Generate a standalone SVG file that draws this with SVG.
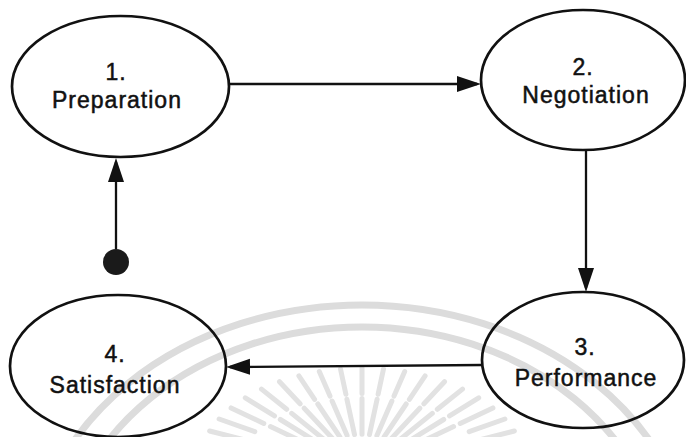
<svg xmlns="http://www.w3.org/2000/svg" width="686" height="437" viewBox="0 0 686 437">
<style>
.wm{fill:none;stroke:#dcdcdc;stroke-width:7}
.ray{fill:none;stroke:#e2e2e2;stroke-width:5;stroke-linecap:round}
.node ellipse{fill:none;stroke:#111;stroke-width:2.7}
.lbl{font-family:"Liberation Sans",Arial,sans-serif;font-size:23px;letter-spacing:1px;fill:#111;stroke:#111;stroke-width:0.5;text-anchor:middle}
.conn path{fill:none;stroke:#111;stroke-width:2.3}
</style>
<defs>
<marker id="arr" markerUnits="userSpaceOnUse" markerWidth="26" markerHeight="18" refX="20" refY="8" orient="auto">
<path d="M0,0 L24,8 L0,16 Z" fill="#111"/>
</marker>
</defs>
<rect width="686" height="437" fill="#fff"/>
<g id="watermark">
<ellipse class="wm" cx="362" cy="571" rx="330" ry="266"/>
<ellipse class="wm" cx="362" cy="571" rx="300" ry="244"/>
<path class="ray" d="M362,368 L362,393.5 M362,398.6 L362,434.3
M383.5,368.9 L378.1,394.2 M377.1,399.2 L369.5,434.6 M340.5,368.9 L345.9,394.2 M346.9,399.2 L354.5,434.6
M404.7,371.5 L394,396.1 M391.9,401 L376.9,435.5 M319.3,371.5 L330,396.1 M332.1,401 L347.1,435.5
M425.1,375.8 L409.4,399.3 M406.2,404 L384.1,437 M298.9,375.8 L314.6,399.3 M317.8,404 L339.9,437
M444.5,381.7 L423.9,403.8 M419.8,408.2 L390.9,439.1 M279.5,381.7 L300.1,403.8 M304.2,408.2 L333.1,439.1
M462.5,389.1 L437.3,409.3 M432.3,413.4 L397.2,441.7 M261.5,389.1 L286.7,409.3 M291.7,413.4 L326.8,441.7
M478.7,397.9 L449.5,415.9 M443.7,419.5 L402.8,444.8 M245.3,397.9 L274.5,415.9 M280.3,419.5 L321.2,444.8
M492.9,407.9 L460.2,423.4 M453.6,426.5 L407.8,448.3 M231.1,407.9 L263.8,423.4 M270.4,426.5 L316.2,448.3
M504.9,419 L469.2,431.7 M219.1,419 L254.8,431.7
M514.4,431 L476.3,440.7 M209.6,431 L247.7,440.7"/>
</g>
<g id="connectors" class="conn">
<path d="M229,84 L477,84" marker-end="url(#arr)"/>
<path d="M586,150 L586,288" marker-end="url(#arr)"/>
<path d="M482,365 L230,367" marker-end="url(#arr)"/>
<path d="M116,249 L116,162" marker-end="url(#arr)"/>
<circle cx="116" cy="262" r="13" fill="#1a1a1a"/>
</g>
<g id="n1" class="node">
<ellipse cx="120.5" cy="86.5" rx="108.5" ry="70.5"/>
<text class="lbl" x="116" y="80">1.</text>
<text class="lbl" x="117" y="108">Preparation</text>
</g>
<g id="n2" class="node">
<ellipse cx="583" cy="80" rx="102" ry="70"/>
<text class="lbl" x="583" y="75">2.</text>
<text class="lbl" x="586" y="103">Negotiation</text>
</g>
<g id="n3" class="node">
<ellipse cx="583" cy="360" rx="101" ry="68"/>
<text class="lbl" x="585" y="355">3.</text>
<text class="lbl" x="586" y="386">Performance</text>
</g>
<g id="n4" class="node">
<ellipse cx="118" cy="366" rx="108" ry="71"/>
<text class="lbl" x="115" y="362">4.</text>
<text class="lbl" x="115" y="393">Satisfaction</text>
</g>
</svg>
